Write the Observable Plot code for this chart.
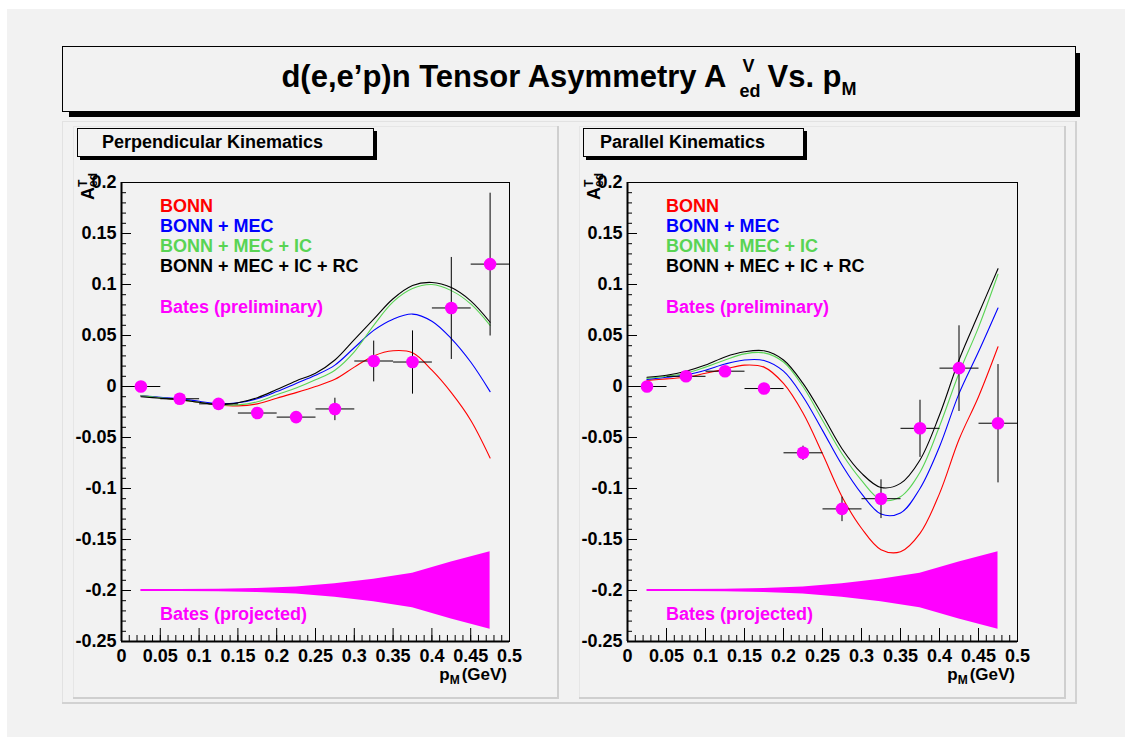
<!DOCTYPE html>
<html><head><meta charset="utf-8">
<script src="https://cdn.jsdelivr.net/npm/d3@7"></script>
<script src="https://cdn.jsdelivr.net/npm/@observablehq/plot@0.6"></script>
<style>
html,body{margin:0;padding:0;background:#fff;}
#root{position:relative;width:1125px;height:737px;overflow:hidden;font-family:"Liberation Sans",Arial,Helvetica,sans-serif;}
#root svg{position:absolute;}
</style></head><body><div id="root"></div>
<script>
// ---------- data ----------
const binCenters = [0.025, 0.075, 0.125, 0.175, 0.225, 0.275, 0.325, 0.375, 0.425, 0.475];
const binHalfWidth = 0.025;

const perpAsym = [0.0, -0.012, -0.017, -0.026, -0.030, -0.022, 0.025, 0.024, 0.077, 0.120];
const perpErr  = [0.003, 0.004, 0.004, 0.004, 0.004, 0.011, 0.020, 0.031, 0.050, 0.070];
const paraAsym = [0.0, 0.010, 0.015, -0.002, -0.065, -0.120, -0.110, -0.041, 0.018, -0.036];
const paraErr  = [0.003, 0.004, 0.004, 0.004, 0.007, 0.012, 0.019, 0.028, 0.042, 0.058];

const projCenter = -0.2;
const projErr = [0.001, 0.001, 0.0012, 0.002, 0.0035, 0.0065, 0.011, 0.017, 0.028, 0.038];

const curveX = [0.025, 0.05, 0.075, 0.1, 0.125, 0.15, 0.175, 0.2, 0.225, 0.25, 0.275, 0.3, 0.325, 0.35, 0.375, 0.4, 0.425, 0.45, 0.475];

const perpBonn = [-0.009, -0.011, -0.013, -0.0155, -0.018, -0.019, -0.017, -0.0115, -0.006, 0.0, 0.007, 0.019, 0.030, 0.035, 0.033, 0.016, -0.006, -0.033, -0.070];
const perpMec  = [-0.009, -0.0105, -0.012, -0.0145, -0.017, -0.016, -0.012, -0.005, 0.003, 0.011, 0.021, 0.038, 0.055, 0.066, 0.071, 0.064, 0.047, 0.024, -0.005];
const perpIc   = [-0.009, -0.011, -0.013, -0.0155, -0.018, -0.018, -0.015, -0.008, -0.0015, 0.0065, 0.016, 0.034, 0.060, 0.083, 0.096, 0.100, 0.094, 0.081, 0.060];
const perpRc   = [-0.010, -0.0115, -0.013, -0.0155, -0.018, -0.016, -0.011, -0.003, 0.0055, 0.013, 0.026, 0.046, 0.066, 0.086, 0.099, 0.102, 0.097, 0.084, 0.063];

const paraBonn = [0.006, 0.0075, 0.009, 0.013, 0.017, 0.021, 0.019, 0.003, -0.026, -0.066, -0.108, -0.139, -0.160, -0.162, -0.144, -0.105, -0.052, -0.010, 0.039];
const paraMec  = [0.007, 0.009, 0.0115, 0.016, 0.022, 0.026, 0.0255, 0.015, -0.010, -0.043, -0.077, -0.105, -0.125, -0.124, -0.100, -0.059, -0.007, 0.034, 0.077];
const paraIc   = [0.008, 0.010, 0.013, 0.019, 0.026, 0.032, 0.033, 0.024, 0.0, -0.033, -0.066, -0.092, -0.111, -0.108, -0.084, -0.039, 0.013, 0.058, 0.110];
const paraRc   = [0.009, 0.011, 0.015, 0.021, 0.029, 0.034, 0.035, 0.026, 0.003, -0.028, -0.061, -0.085, -0.099, -0.095, -0.072, -0.028, 0.026, 0.071, 0.1155];

const seriesNames  = ["BONN", "BONN + MEC", "BONN + MEC + IC", "BONN + MEC + IC + RC"];
const seriesColors = ["#ff0000", "#0000ff", "#59d454", "#000000"];
const dataLabel = "Bates (preliminary)";
const projLabel = "Bates (projected)";
const dataColor = "#ff00ff";

const yMajorTicks = [-0.25, -0.2, -0.15, -0.1, -0.05, 0, 0.05, 0.1, 0.15, 0.2];
const yTickLabels = ["-0.25", "-0.2", "-0.15", "-0.1", "-0.05", "0", "0.05", "0.1", "0.15", "0.2"];
const xMajorTicks = [0, 0.05, 0.1, 0.15, 0.2, 0.25, 0.3, 0.35, 0.4, 0.45, 0.5];
const xTickLabels = ["0", "0.05", "0.1", "0.15", "0.2", "0.25", "0.3", "0.35", "0.4", "0.45", "0.5"];
const yMinorTicks = d3.range(-25, 21).map(k => k / 100);
const xMinorTicks = d3.range(0, 51).map(k => k / 100);

const panelTitles = ["Perpendicular Kinematics", "Parallel Kinematics"];

// ---------- page decoration ----------
const FONT = '"Liberation Sans", Arial, Helvetica, sans-serif';
const root = d3.select("#root");
const deco = root.append("svg").attr("width", 1125).attr("height", 737).style("left", "0px").style("top", "0px")
  .attr("font-family", FONT);
deco.append("rect").attr("x", 7).attr("y", 9).attr("width", 1118).attr("height", 728).attr("fill", "#f2f2f2");

// title box with shadow
deco.append("rect").attr("x", 69).attr("y", 53).attr("width", 1011).attr("height", 64).attr("fill", "#000");
deco.append("rect").attr("x", 62.5).attr("y", 46.5).attr("width", 1013).attr("height", 65).attr("fill", "#f2f2f2").attr("stroke", "#000");
const tt = deco.append("text").attr("x", 569).attr("y", 87).attr("text-anchor", "middle")
  .attr("font-size", 31).attr("font-weight", "bold").attr("fill", "#000");
tt.append("tspan").text("d(e,e’p)n Tensor Asymmetry A");
tt.append("tspan").attr("dx", 16).attr("dy", -15).attr("font-size", 18).text("V");
tt.append("tspan").attr("dx", -14).attr("dy", 25).attr("font-size", 18).text("ed");
tt.append("tspan").attr("dx", 7).attr("dy", -10).text("Vs. p");
tt.append("tspan").attr("dy", 8).attr("font-size", 18).text("M");

// pads
function bevel(x0, y0, x1, y1, light, dark, w) {
  deco.append("line").attr("x1", x0).attr("y1", y0 + 0.5).attr("x2", x1).attr("y2", y0 + 0.5).attr("stroke", light);
  deco.append("line").attr("x1", x0 + 0.5).attr("y1", y0).attr("x2", x0 + 0.5).attr("y2", y1).attr("stroke", light);
  deco.append("line").attr("x1", x0).attr("y1", y1 - w / 2).attr("x2", x1).attr("y2", y1 - w / 2).attr("stroke", dark).attr("stroke-width", w);
  deco.append("line").attr("x1", x1 - w / 2).attr("y1", y0).attr("x2", x1 - w / 2).attr("y2", y1).attr("stroke", dark).attr("stroke-width", w);
}
bevel(62, 121, 1077, 704, "#e2e2e2", "#d2d2d2", 2);
bevel(73, 126, 559, 699, "#e6e6e6", "#cfcfcf", 2);
bevel(579, 126, 1066, 699, "#e6e6e6", "#cfcfcf", 2);

// panel label boxes
const labelBoxes = [{x0: 77, x1: 373, tx: 102}, {x0: 583, x1: 803, tx: 600}];
labelBoxes.forEach((b, i) => {
  deco.append("rect").attr("x", b.x0 + 3).attr("y", 131).attr("width", b.x1 - b.x0 + 1).attr("height", 29).attr("fill", "#000");
  deco.append("rect").attr("x", b.x0 + 0.5).attr("y", 128.5).attr("width", b.x1 - b.x0).attr("height", 28).attr("fill", "#f2f2f2").attr("stroke", "#000");
  deco.append("text").attr("x", b.tx).attr("y", 148).attr("font-size", 18).attr("font-weight", "bold").text(panelTitles[i]);
});

// ---------- panels ----------
function makePanel(asym, err, curves, left, width, plotW) {
  const height = 572, mT = 56, mB = 57, mL = 48, mR = width - mL - plotW;
  const W = plotW, H = height - mT - mB;
  const points = binCenters.map((x, i) => ({x, y: asym[i], e: err[i]}));
  const band = binCenters.map((x, i) => ({x, lo: projCenter - projErr[i], hi: projCenter + projErr[i]}));
  const lineMarks = curves.map((vals, s) =>
    Plot.line(curveX.map((x, i) => ({x, y: vals[i]})), {x: "x", y: "y", stroke: seriesColors[s], strokeWidth: 1.1, curve: "catmull-rom"}));
  const yFmt = d => yTickLabels[yMajorTicks.findIndex(t => Math.abs(t - d) < 1e-9)];
  const xFmt = d => xTickLabels[xMajorTicks.findIndex(t => Math.abs(t - d) < 1e-9)];
  const svg = Plot.plot({
    width, height, marginTop: mT, marginBottom: mB, marginLeft: mL, marginRight: mR,
    x: {domain: [0, 0.5]}, y: {domain: [-0.25, 0.2]},
    style: {background: "transparent", fontFamily: FONT, fontSize: "18px", fontWeight: "bold", color: "#000", overflow: "visible"},
    marks: [
      Plot.areaY(band, {x: "x", y1: "lo", y2: "hi", fill: dataColor}),
      ...lineMarks,
      Plot.link(points, {x1: d => d.x - binHalfWidth, x2: d => d.x + binHalfWidth, y1: "y", y2: "y", stroke: "#000", strokeWidth: 1}),
      Plot.link(points, {x1: "x", x2: "x", y1: d => d.y - d.e, y2: d => d.y + d.e, stroke: "#000", strokeWidth: 1}),
      Plot.dot(points, {x: "x", y: "y", r: 6.3, fill: dataColor, stroke: "none"}),
      Plot.frame({stroke: "#000", strokeWidth: 1}),
      Plot.ruleX([0], {stroke: "#000", strokeWidth: 2}),
      Plot.ruleY([-0.25], {stroke: "#000", strokeWidth: 2}),
      Plot.ruleY(yMinorTicks, {stroke: "#000", strokeWidth: 1, insetRight: W - 5}),
      Plot.ruleY(yMajorTicks, {stroke: "#000", strokeWidth: 1, insetRight: W - 10}),
      Plot.ruleX(xMinorTicks, {stroke: "#000", strokeWidth: 1, insetTop: H - 6}),
      Plot.ruleX(xMajorTicks, {stroke: "#000", strokeWidth: 1, insetTop: H - 13}),
      Plot.axisY({ticks: yMajorTicks, tickSize: 0, tickPadding: 5, tickFormat: yFmt, label: null, fontSize: 18}),
      Plot.axisX({ticks: xMajorTicks, tickSize: 0, tickPadding: 8, tickFormat: xFmt, label: null, fontSize: 18})
    ]
  });
  svg.style.left = left + "px";
  svg.style.top = "126px";
  document.getElementById("root").appendChild(svg);
  const s = d3.select(svg);
  // legend
  const lg = s.append("g").attr("font-size", 18).attr("font-weight", "bold").attr("font-family", FONT).attr("text-anchor", "start");
  seriesNames.forEach((n, i) => lg.append("text").attr("x", mL + 39).attr("y", mT + 30 + 20 * i).attr("fill", seriesColors[i]).text(n));
  lg.append("text").attr("x", mL + 39).attr("y", mT + 131).attr("fill", dataColor).text(dataLabel);
  lg.append("text").attr("x", mL + 39).attr("y", mT + 438).attr("fill", dataColor).text(projLabel);
  // x title
  const xt = s.append("text").attr("x", mL + W - 2).attr("y", mT + H + 39).attr("text-anchor", "end")
    .attr("font-size", 17).attr("font-weight", "bold").attr("font-family", FONT);
  xt.append("tspan").text("p");
  xt.append("tspan").attr("dy", 4).attr("font-size", 12).text("M");
  xt.append("tspan").attr("dy", -4).attr("dx", 2).text("(GeV)");
  // y title
  const yt = s.append("text").attr("transform", `translate(${mL - 27},${mT + 18}) rotate(-90)`).attr("text-anchor", "start")
    .attr("font-size", 18).attr("font-weight", "bold").attr("font-family", FONT);
  yt.append("tspan").attr("x", 0).text("A");
  yt.append("tspan").attr("x", 13).attr("dy", 3).attr("font-size", 12).text("ed");
  yt.append("tspan").attr("x", 13).attr("dy", -10).attr("font-size", 12).text("T");
}

makePanel(perpAsym, perpErr, [perpBonn, perpMec, perpIc, perpRc], 73, 486, 388);
makePanel(paraAsym, paraErr, [paraBonn, paraMec, paraIc, paraRc], 579, 486, 390);
</script></body></html>
